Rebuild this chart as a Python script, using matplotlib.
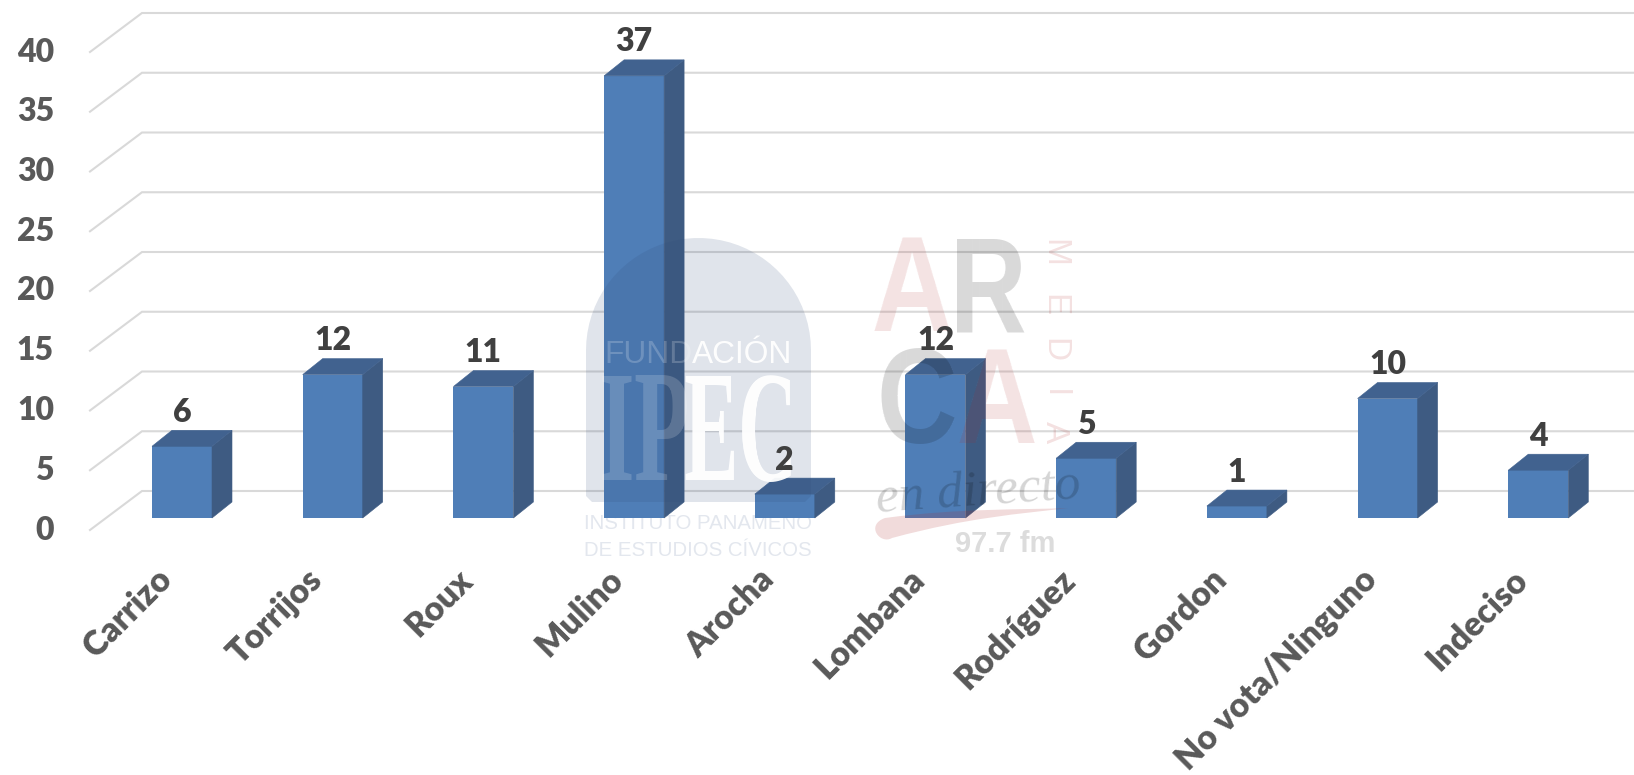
import numpy as np
import matplotlib
matplotlib.use('Agg')
import matplotlib.pyplot as plt
from matplotlib.path import Path
from matplotlib.patches import PathPatch
from matplotlib.transforms import Affine2D

names = ['Carrizo', 'Torrijos', 'Roux', 'Mulino', 'Arocha', 'Lombana',
         'Rodríguez', 'Gordon', 'No vota/Ninguno', 'Indeciso']
votes = [6, 12, 11, 37, 2, 12, 5, 1, 10, 4]
y_ticks = [0, 5, 10, 15, 20, 25, 30, 35, 40]

W, H = 1634, 775
x0_px, step_px = 182, 150.7
base_px, unit_px = 518, 11.95

plt.rcParams['font.family'] = ['Lato', 'DejaVu Sans']
fig = plt.figure(figsize=(W / 100, H / 100), dpi=100)
ax = fig.add_axes([0, 0, 1, 1])
ax.axis('off')
ax.set_xlim(-x0_px / step_px, (W - x0_px) / step_px)
ax.set_ylim(-(H - base_px) / unit_px, base_px / unit_px)

# pixel coords, only for the watermark logos
px = Affine2D().scale(1 / W, -1 / H).translate(0, 1) + fig.transFigure

bar_w = 60 / step_px
dx = 20 / step_px
dy = 16 / unit_px
# floor of the 3d box, relative to the front of the bars
floor_front = -12 / unit_px
floor_back = 27 / unit_px
left_wall = (142 - x0_px) / step_px
left_end = (90 - x0_px) / step_px

for v in y_ticks:
    ax.plot([left_end, left_wall, ax.get_xlim()[1]],
            [v + floor_front, v + floor_back, v + floor_back],
            color='#d9d9d9', lw=1.5, zorder=1, solid_joinstyle='miter')
    ax.text((54 - x0_px) / step_px, v + floor_front, str(v), ha='right', va='center',
            fontsize=23, fontweight='heavy', color='#595959')

for i, v in enumerate(votes):
    l = i - bar_w / 2
    r = i + bar_w / 2
    ax.bar(i, v, width=bar_w, color='#4f7eb7', zorder=3)
    ax.fill([r, r + dx, r + dx, r], [0, dy, v + dy, v], color='#3e5b82', lw=0.4, zorder=3)
    ax.fill([l, l + dx, r + dx, r], [v, v + dy, v + dy, v], color='#41628f', lw=0.4, zorder=3)
    ax.text(i, v + dy + 18 / unit_px, str(v), ha='center', va='center', fontsize=23,
            fontweight='heavy', color='#404040', zorder=8)
    ax.text(i - 27 / step_px, -45 / unit_px, names[i], ha='right', va='top', rotation=45,
            rotation_mode='anchor', fontsize=24.3, fontweight='heavy', color='#595959')


def squeeze(f):
    # the logo lettering is much narrower than the installed fonts
    def flt(img, dpi):
        w = img.shape[1]
        n = max(int(w * f), 1)
        idx = np.arange(n) * (w - 1) / max(n - 1, 1)
        i0 = idx.astype(int)
        i1 = np.minimum(i0 + 1, w - 1)
        t = (idx - i0)[None, :, None]
        return img[:, i0] * (1 - t) + img[:, i1] * t, (w - n) // 2, 0
    return flt


# IPEC logo
a, b, top, bot = 586, 811, 238, 502
cx, rad = (a + b) / 2, (b - a) / 2
arch = [(a + 6, bot), (a, bot - 6), (a, top + rad)]
ang = np.linspace(np.pi, 0, 40)
arch += [(cx + rad * np.cos(t), top + rad - rad * np.sin(t)) for t in ang]
arch += [(b, bot - 6), (b - 6, bot), (a + 6, bot)]
ax.fill(*zip(*arch), transform=px, color='#2f4a7a', alpha=0.15, lw=0, zorder=5)

serif = dict(family='Liberation Serif', fontweight='bold', fontsize=114, color='white', transform=px,
             ha='center', va='center')
ax.text(645, 442, 'IP', alpha=0.17, zorder=6, agg_filter=squeeze(0.58), **serif)
ax.text(743, 442, 'EC', alpha=0.95, zorder=6, agg_filter=squeeze(0.52), **serif)
sans = dict(family='Liberation Sans', fontsize=22.8, color='white', transform=px, ha='left', va='baseline')
ax.text(604, 363, 'FUND', alpha=0.2, zorder=6, **sans)
ax.text(692, 363, 'ACIÓN', alpha=0.95, zorder=6, **sans)
for txt, y in [('INSTITUTO PANAMEÑO', 529), ('DE ESTUDIOS CÍVICOS', 556)]:
    ax.text(698, y, txt, family='Liberation Sans', fontsize=14.7, color='#e3e7ee', transform=px,
            ha='center', va='baseline', zorder=2)

# ARCA logo
logo = dict(family='Liberation Sans', fontweight='bold', fontsize=97, transform=px, ha='center',
            va='baseline', zorder=5)
pink = '#b02a2a'
ax.text(912, 331, 'A', color=pink, alpha=0.13, agg_filter=squeeze(0.84), **logo)
ax.text(988, 331, 'R', color='black', alpha=0.15, agg_filter=squeeze(0.8), **logo)
ax.text(917, 443, 'C', color='black', alpha=0.15, agg_filter=squeeze(0.84), **logo)
ax.text(997, 443, 'A', color=pink, alpha=0.13, agg_filter=squeeze(0.84), **logo)
for ch, y in zip('MEDIA', [253, 305, 350, 394, 432]):
    ax.text(1054, y, ch, family='Liberation Sans', fontsize=24, color=pink, alpha=0.14, rotation=-90,
            transform=px, ha='center', va='center', zorder=5)
ax.text(978, 493, 'en directo', family='Liberation Serif', style='italic', fontsize=37, color='black',
        alpha=0.17, rotation=4, transform=px, ha='center', va='center', zorder=5)
swoosh = Path([(885, 518), (960, 508), (1020, 510), (1068, 508), (1020, 514), (970, 517), (892, 538),
               (880, 545), (865, 525), (885, 518)],
              [Path.MOVETO, Path.CURVE4, Path.CURVE4, Path.CURVE4, Path.CURVE4, Path.CURVE4, Path.CURVE4,
               Path.CURVE4, Path.CURVE4, Path.CURVE4])
ax.add_patch(PathPatch(swoosh, transform=px, fc=pink, ec='none', alpha=0.17, zorder=5))
ax.text(1005, 544, '97.7 fm', family='Liberation Sans', fontweight='bold', fontsize=21, color='#dcdcdc',
        transform=px, ha='center', va='center', zorder=5)

fig.savefig('out.png', dpi=100, facecolor='white')
